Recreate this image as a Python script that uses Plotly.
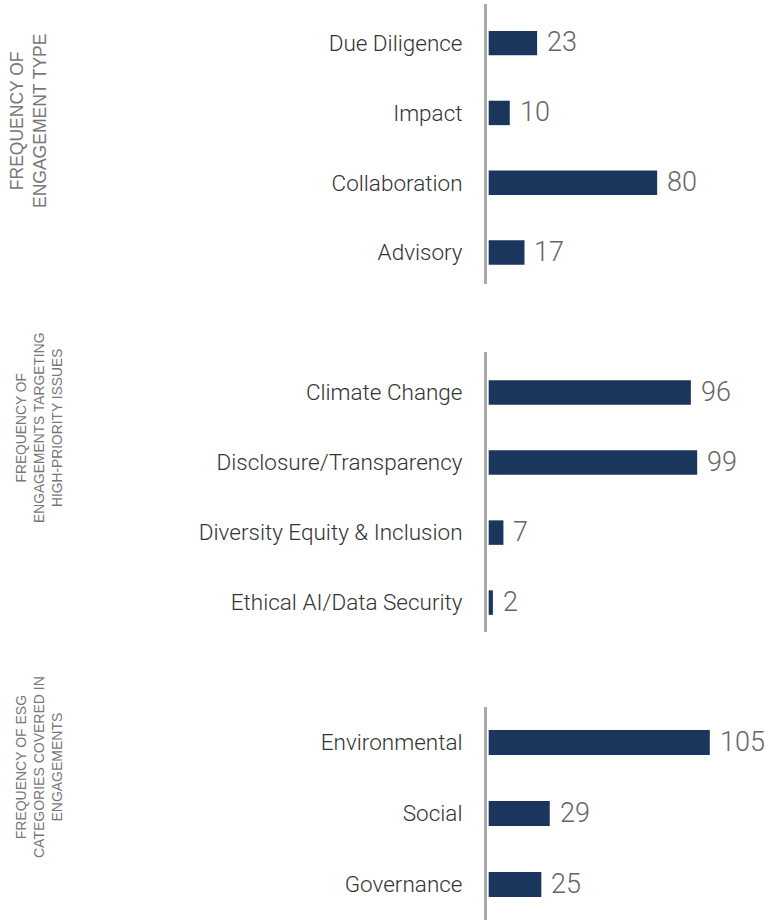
import plotly.graph_objects as go

# ---- data ----
engagement_types = ["Due Diligence", "Impact", "Collaboration", "Advisory"]
engagement_counts = [23, 10, 80, 17]

priority_issues = ["Climate Change", "Disclosure/Transparency",
                   "Diversity Equity & Inclusion", "Ethical AI/Data Security"]
priority_counts = [96, 99, 7, 2]

esg_categories = ["Environmental", "Social", "Governance"]
esg_counts = [105, 29, 25]

panel_titles = [
    "FREQUENCY OF<br>ENGAGEMENT TYPE",
    "FREQUENCY OF<br>ENGAGEMENTS TARGETING<br>HIGH-PRIORITY ISSUES",
    "FREQUENCY OF ESG<br>CATEGORIES COVERED IN<br>ENGAGEMENTS",
]

# ---- style ----
W, H = 765, 920
BAR = "#1b365d"
AXIS_LINE = "#a9a9a9"
LABEL_FONT = "Roboto"

panels = [
    (engagement_types, engagement_counts, (4, 284), [3.45, -0.56]),
    (priority_issues, priority_counts, (352, 632), [3.42, -0.58]),
    (esg_categories, esg_counts, (707, 920), [2.5, -0.5]),
]
title_pos = [(29, 121, 17.5), (39, 428, 13.8), (39, 767, 14)]

fig = go.Figure()
x_left = 487 / W
annotations = []
for i, (cats, vals, (ytop, ybot), yr) in enumerate(panels, start=1):
    xa = "x" if i == 1 else f"x{i}"
    ya = "y" if i == 1 else f"y{i}"
    fig.add_trace(go.Bar(
        x=vals, y=cats, orientation="h", marker_color=BAR,
        marker_line_width=0, width=0.35, xaxis=xa, yaxis=ya,
        hoverinfo="skip", showlegend=False,
    ))
    for c, v in zip(cats, vals):
        annotations.append(dict(
            x=v, y=c, xref=xa, yref=ya, text=str(v), showarrow=False,
            xanchor="left", yanchor="middle", xshift=8, yshift=1,
            font=dict(family=LABEL_FONT, size=27, color="#666666", weight=300),
        ))
    xkey = "xaxis" if i == 1 else f"xaxis{i}"
    ykey = "yaxis" if i == 1 else f"yaxis{i}"
    fig.update_layout(**{
        xkey: dict(domain=[x_left, 1], range=[-0.8, 131.2], visible=False,
                   anchor=ya, fixedrange=True),
        ykey: dict(domain=[1 - ybot / H, 1 - ytop / H], anchor=xa,
                   type="category", categoryorder="array", categoryarray=cats,
                   range=yr, showline=True, linecolor=AXIS_LINE, linewidth=3,
                   showgrid=False, zeroline=False, ticks="", fixedrange=True,
                   ticklabelstandoff=17, automargin=False,
                   tickfont=dict(family=LABEL_FONT, size=22.5, color="#333333",
                                 weight=300)),
    })

for t, (cx, cy, fs) in zip(panel_titles, title_pos):
    annotations.append(dict(
        x=cx / W, y=1 - cy / H, xref="paper", yref="paper",
        text=t, showarrow=False, textangle=-90, xanchor="center",
        yanchor="middle", align="center",
        font=dict(family="Liberation Sans", size=fs, color="#777777"),
    ))

fig.update_layout(
    width=W, height=H, margin=dict(l=0, r=0, t=0, b=0),
    paper_bgcolor="white", plot_bgcolor="white",
    annotations=annotations, bargap=0.65, hovermode=False,
)

fig.write_html(
    "out.html",
    config={"displayModeBar": False, "staticPlot": True},
    post_script="document.body.style.margin='0';"
                "document.body.style.overflow='hidden';",
)
